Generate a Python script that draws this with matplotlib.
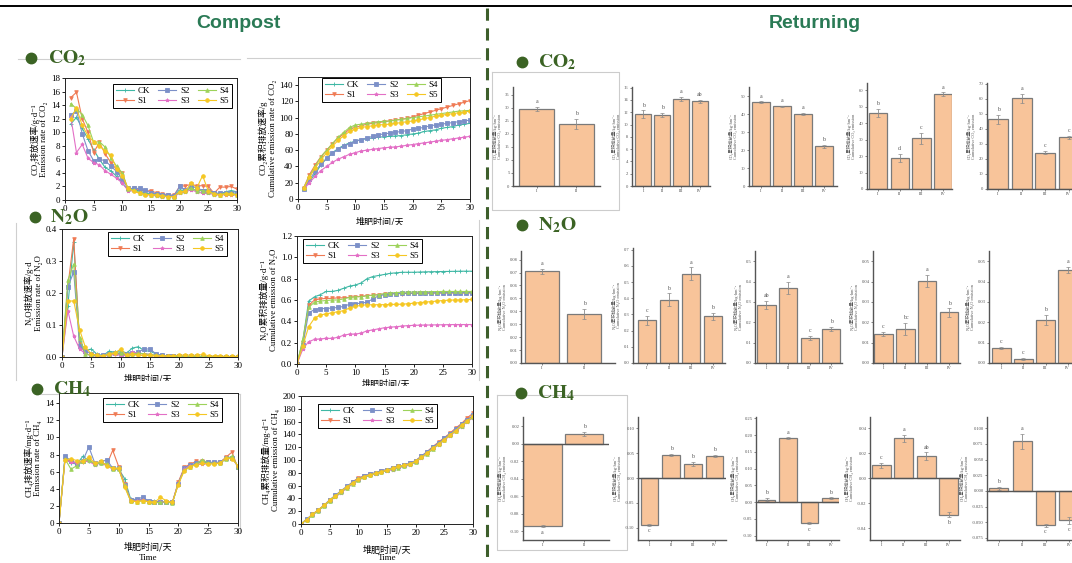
import numpy as np
import matplotlib
matplotlib.use("Agg")
import matplotlib.pyplot as plt
from matplotlib.lines import Line2D
from matplotlib.ticker import FormatStrFormatter
from matplotlib.transforms import Bbox, TransformedBbox

plt.rcParams['font.family'] = ['Liberation Serif', 'Noto Sans CJK SC', 'DejaVu Sans']
plt.rcParams['mathtext.fontset'] = 'stix'

# ---------------- data ----------------
SERIES = ["CK", "S1", "S2", "S3", "S4", "S5"]
COLORS = ["#3fb8a5", "#ef7a54", "#7c90c8", "#e36fc6", "#9dd25a", "#f5c722"]
MARKERS = ["+", "v", "s", "*", "^", "o"]

DAYS_1_30 = list(range(1, 31))
DAYS_0_30 = list(range(0, 31))

co2_rate = {
    "CK": [11.2, 12.2, 10.6, 9.0, 7.4, 6.0, 4.8, 4.3, 3.5, 2.5, 1.5, 1.6, 1.3, 1.0, 0.9, 0.8, 0.7, 0.6, 0.6, 1.5, 1.4, 1.8, 1.3, 1.5, 1.5, 1.0, 0.9, 1.2, 1.4, 1.2],
    "S1": [15.1, 15.9, 12.0, 10.0, 7.0, 8.5, 6.8, 5.5, 4.5, 4.0, 1.5, 1.7, 1.5, 1.3, 1.4, 1.0, 0.9, 0.8, 0.7, 2.0, 2.1, 2.3, 2.1, 2.1, 2.0, 1.0, 1.9, 1.9, 2.0, 1.6],
    "S2": [12.5, 13.2, 9.8, 7.3, 5.8, 6.0, 5.8, 5.0, 4.2, 3.0, 1.7, 1.7, 1.7, 1.5, 1.0, 0.9, 0.8, 0.7, 0.6, 2.0, 1.5, 2.0, 1.8, 1.4, 1.3, 1.0, 1.0, 1.0, 1.1, 1.0],
    "S3": [12.3, 7.0, 8.2, 6.2, 5.5, 5.2, 4.3, 3.8, 3.2, 2.5, 1.4, 1.3, 1.0, 0.8, 0.7, 0.6, 0.5, 0.5, 0.5, 1.0, 1.2, 1.5, 1.2, 1.0, 1.0, 0.8, 0.7, 0.8, 0.8, 0.7],
    "S4": [14.2, 13.5, 12.6, 11.0, 8.5, 8.6, 7.8, 6.2, 5.0, 4.0, 1.6, 1.5, 1.1, 0.9, 0.8, 0.7, 0.6, 0.5, 0.5, 1.2, 1.3, 1.8, 1.3, 1.4, 1.2, 0.9, 0.8, 1.0, 1.0, 0.8],
    "S5": [12.0, 13.6, 11.0, 9.5, 8.6, 8.0, 7.2, 6.6, 4.6, 3.6, 1.7, 1.3, 1.0, 0.8, 0.8, 0.7, 0.6, 0.5, 0.5, 1.2, 1.3, 2.5, 1.8, 3.6, 1.3, 0.9, 0.8, 0.9, 0.9, 0.7],
}
co2_cum = {
    "CK": [13, 22, 31, 42, 50, 57, 62, 66, 69, 71, 73, 74, 75, 76, 76.5, 77, 77.5, 78, 79, 80, 81, 83, 84, 85, 87, 88, 89, 91, 92, 93],
    "S1": [14, 30, 42, 52, 60, 68, 75, 80, 86, 88, 90, 92, 93, 94, 95, 96, 97, 98, 99, 101, 103, 105, 107, 109, 111, 113, 115, 117, 119, 121],
    "S2": [12, 24, 34, 43, 50, 56, 61, 65, 68, 71, 73, 75, 77, 79, 80, 81, 82, 83, 84, 86, 87, 88, 90, 91, 92, 93, 94, 95, 96, 97],
    "S3": [12, 20, 28, 35, 40, 45, 49, 52, 55, 57, 59, 60, 61, 62, 63, 63.5, 64, 65, 66, 67, 68, 69, 70, 71, 72, 73, 74, 75, 76, 77],
    "S4": [14, 28, 40, 52, 60, 68, 76, 82, 88, 91, 92, 93, 94, 95, 95.5, 96, 97, 98, 99, 100, 101, 102, 103, 104, 105, 106, 107, 108, 108.5, 109],
    "S5": [13, 27, 38, 48, 57, 65, 72, 78, 83, 86, 88, 89, 90, 91, 91.5, 92, 93, 94, 95, 96, 97, 99, 100, 102, 103, 104, 105, 106, 107, 108],
}
n2o_rate = {
    "CK": [0, 0.16, 0.36, 0.05, 0.02, 0.025, 0.008, 0.005, 0.018, 0.015, 0.02, 0.012, 0.028, 0.032, 0.02, 0.018, 0.01, 0.005, 0.004, 0.003, 0.003, 0.002, 0.002, 0.002, 0.002, 0.001, 0.001, 0.001, 0.001, 0.001, 0.001],
    "S1": [0, 0.22, 0.37, 0.04, 0.01, 0.005, 0.004, 0.003, 0.008, 0.01, 0.008, 0.006, 0.008, 0.006, 0.005, 0.004, 0.003, 0.002, 0.002, 0.002, 0.002, 0.002, 0.001, 0.001, 0.001, 0.001, 0.001, 0.001, 0.001, 0.001, 0.001],
    "S2": [0, 0.22, 0.265, 0.035, 0.02, 0.01, 0.005, 0.005, 0.01, 0.012, 0.01, 0.01, 0.012, 0.015, 0.025, 0.025, 0.01, 0.005, 0.004, 0.003, 0.002, 0.002, 0.002, 0.002, 0.001, 0.001, 0.001, 0.001, 0.001, 0.001, 0.001],
    "S3": [0, 0.145, 0.065, 0.025, 0.01, 0.005, 0.002, 0.002, 0.005, 0.008, 0.005, 0.004, 0.015, 0.012, 0.01, 0.008, 0.005, 0.003, 0.002, 0.002, 0.002, 0.001, 0.001, 0.001, 0.001, 0.001, 0.001, 0.001, 0.001, 0.001, 0.001],
    "S4": [0, 0.24, 0.29, 0.06, 0.01, 0.005, 0.004, 0.003, 0.01, 0.015, 0.012, 0.008, 0.01, 0.012, 0.01, 0.008, 0.006, 0.004, 0.003, 0.002, 0.002, 0.002, 0.002, 0.002, 0.001, 0.001, 0.001, 0.001, 0.001, 0.001, 0.001],
    "S5": [0, 0.175, 0.175, 0.085, 0.03, 0.01, 0.005, 0.004, 0.008, 0.012, 0.025, 0.005, 0.008, 0.006, 0.005, 0.005, 0.004, 0.004, 0.004, 0.004, 0.006, 0.006, 0.006, 0.005, 0.008, 0.004, 0.003, 0.003, 0.002, 0.002, 0.002],
}
n2o_cum = {
    "CK": [0, 0.22, 0.59, 0.63, 0.65, 0.68, 0.68, 0.69, 0.71, 0.73, 0.74, 0.76, 0.80, 0.82, 0.83, 0.84, 0.85, 0.855, 0.86, 0.86, 0.86, 0.862, 0.864, 0.865, 0.866, 0.867, 0.868, 0.869, 0.87, 0.87, 0.87],
    "S1": [0, 0.20, 0.55, 0.60, 0.61, 0.615, 0.615, 0.62, 0.62, 0.625, 0.63, 0.635, 0.64, 0.645, 0.65, 0.655, 0.66, 0.66, 0.66, 0.662, 0.662, 0.663, 0.663, 0.664, 0.664, 0.665, 0.665, 0.665, 0.665, 0.665, 0.665],
    "S2": [0, 0.18, 0.48, 0.51, 0.52, 0.52, 0.525, 0.53, 0.54, 0.56, 0.565, 0.57, 0.58, 0.61, 0.64, 0.65, 0.655, 0.66, 0.662, 0.664, 0.665, 0.666, 0.667, 0.668, 0.668, 0.669, 0.669, 0.67, 0.67, 0.67, 0.67],
    "S3": [0, 0.14, 0.21, 0.23, 0.235, 0.24, 0.24, 0.25, 0.27, 0.28, 0.28, 0.29, 0.31, 0.32, 0.33, 0.34, 0.345, 0.35, 0.355, 0.36, 0.362, 0.364, 0.365, 0.366, 0.367, 0.368, 0.369, 0.37, 0.37, 0.37, 0.37],
    "S4": [0, 0.23, 0.53, 0.58, 0.59, 0.595, 0.60, 0.60, 0.61, 0.625, 0.63, 0.63, 0.64, 0.645, 0.65, 0.66, 0.665, 0.67, 0.672, 0.674, 0.675, 0.676, 0.677, 0.678, 0.679, 0.68, 0.68, 0.68, 0.68, 0.68, 0.68],
    "S5": [0, 0.17, 0.35, 0.43, 0.46, 0.47, 0.48, 0.49, 0.50, 0.525, 0.54, 0.55, 0.555, 0.555, 0.556, 0.556, 0.558, 0.56, 0.56, 0.565, 0.57, 0.575, 0.58, 0.585, 0.59, 0.595, 0.598, 0.60, 0.60, 0.603, 0.605],
}
ch4_rate = {
    "CK": [0, 7.6, 7.0, 6.9, 7.8, 7.3, 6.9, 7.0, 6.8, 6.4, 6.3, 5.2, 2.8, 2.7, 2.8, 2.6, 2.6, 2.4, 2.5, 2.4, 4.7, 6.3, 6.7, 6.9, 7.2, 7.0, 7.0, 7.1, 7.6, 7.7, 6.6],
    "S1": [0, 7.4, 7.3, 7.0, 7.1, 7.4, 6.9, 7.1, 6.8, 8.5, 6.6, 4.6, 2.7, 2.6, 2.7, 2.5, 2.4, 2.5, 2.5, 2.4, 4.8, 6.5, 6.9, 7.2, 7.2, 7.1, 7.0, 7.1, 7.7, 8.3, 6.4],
    "S2": [0, 7.8, 7.3, 6.9, 7.3, 8.9, 7.0, 7.1, 7.4, 6.4, 6.4, 4.5, 2.7, 2.8, 3.0, 2.6, 2.5, 2.4, 2.5, 2.4, 4.6, 6.4, 6.8, 7.0, 7.1, 7.1, 7.1, 7.1, 7.6, 7.6, 6.6],
    "S3": [0, 7.4, 7.1, 7.0, 7.2, 7.2, 6.8, 7.0, 6.7, 6.3, 6.3, 4.5, 2.6, 2.6, 2.7, 2.5, 2.4, 2.4, 2.5, 2.4, 4.6, 6.3, 6.7, 6.8, 6.9, 6.9, 7.0, 7.0, 7.5, 7.6, 6.6],
    "S4": [0, 7.5, 6.3, 6.7, 7.2, 7.4, 6.9, 7.0, 6.9, 6.3, 6.3, 4.4, 2.6, 2.5, 2.6, 2.5, 2.4, 2.4, 2.5, 2.3, 4.6, 6.2, 6.6, 6.9, 7.4, 7.0, 7.0, 7.0, 7.5, 7.8, 6.6],
    "S5": [0, 7.4, 7.5, 7.3, 7.2, 7.7, 7.0, 7.2, 6.7, 6.4, 6.4, 4.2, 2.6, 2.5, 2.6, 2.5, 2.4, 3.0, 2.6, 2.4, 4.5, 6.1, 6.6, 6.8, 7.0, 6.9, 6.9, 7.0, 7.6, 7.5, 6.7],
}
ch4_cum = {
    "CK": [0, 7, 14, 21, 29, 36, 43, 50, 57, 64, 70, 74, 77, 79, 82, 84, 86, 89, 91, 94, 98, 105, 112, 119, 126, 133, 140, 147, 155, 162, 169],
    "S1": [0, 7, 15, 22, 29, 37, 44, 51, 58, 66, 72, 75, 78, 80, 83, 85, 87, 90, 92, 95, 99, 106, 113, 121, 128, 135, 142, 150, 157, 166, 173],
    "S2": [0, 8, 15, 22, 29, 38, 45, 52, 59, 65, 71, 75, 78, 80, 83, 85, 88, 90, 92, 95, 99, 106, 113, 120, 127, 134, 141, 148, 156, 163, 170],
    "S3": [0, 7, 14, 21, 28, 36, 42, 49, 56, 62, 68, 73, 76, 78, 81, 83, 85, 88, 90, 92, 97, 103, 110, 117, 124, 131, 138, 145, 152, 160, 166],
    "S4": [0, 7, 14, 21, 28, 36, 43, 50, 57, 63, 69, 73, 76, 79, 81, 84, 86, 88, 91, 93, 97, 104, 110, 117, 125, 132, 139, 146, 153, 161, 167],
    "S5": [0, 7, 15, 22, 29, 37, 44, 51, 58, 64, 70, 74, 77, 79, 82, 84, 87, 90, 92, 94, 98, 104, 111, 118, 125, 132, 139, 146, 154, 161, 168],
}

# Returning (bar charts), five charts per gas
CO2_BAR_VALS = [[29.5, 23.8], [11.7, 11.6, 14.2, 13.75], [46.5, 44.2, 40.0, 22.0], [46.0, 19.0, 30.7, 57.7], [46.3, 60.3, 24.1, 34.4]]
CO2_BAR_ERRS = [[0.8, 2.0], [0.6, 0.3, 0.3, 0.2], [0.5, 0.5, 0.8, 0.8], [2.5, 2.5, 3.5, 1.0], [3.0, 3.0, 1.0, 1.0]]
CO2_BAR_LETTERS = [["a", "b"], ["b", "b", "a", "ab"], ["a", "a", "a", "b"], ["b", "d", "c", "a"], ["b", "a", "c", "c"]]

N2O_BAR_VALS = [[0.071, 0.038], [0.263, 0.39, 0.55, 0.288], [0.284, 0.37, 0.125, 0.167], [0.0143, 0.0167, 0.0403, 0.0248], [0.0073, 0.0021, 0.0211, 0.0458]]
N2O_BAR_ERRS = [[0.002, 0.004], [0.03, 0.04, 0.04, 0.02], [0.02, 0.03, 0.01, 0.01], [0.001, 0.003, 0.003, 0.002], [0.0005, 0.0005, 0.0025, 0.0015]]
N2O_BAR_LETTERS = [["a", "b"], ["c", "b", "a", "b"], ["ab", "a", "c", "b"], ["c", "bc", "a", "b"], ["c", "c", "b", "a"]]

CH4_BAR_VALS = [[-0.094, 0.011], [-0.094, 0.046, 0.028, 0.044], [0.007, 0.19, -0.063, 0.011], [0.0104, 0.0319, 0.0176, -0.0292], [0.004, 0.079, -0.055, -0.047]]
CH4_BAR_ERRS = [[0.001, 0.002], [0.002, 0.002, 0.004, 0.002], [0.005, 0.003, 0.003, 0.003], [0.002, 0.003, 0.003, 0.002], [0.002, 0.012, 0.002, 0.006]]
CH4_BAR_LETTERS = [["a", "b"], ["c", "b", "b", "b"], ["b", "a", "c", "b"], ["c", "a", "ab", "b"], ["b", "a", "c", "c"]]

XLABELS_2 = ["I", "II"]
XLABELS_4 = ["I", "II", "III", "IV"]

# ---------------- figure ----------------
W, H = 1072, 563
fig = plt.figure(figsize=(W / 100, H / 100), dpi=100)
fig.patch.set_facecolor("white")

GREEN_HEAD = "#2a7a55"
GREEN_DARK = "#3b6324"


def pbox(x0, y0, x1, y1):
    return [x0 / W, 1 - y1 / H, (x1 - x0) / W, (y1 - y0) / H]


def fline(xs, ys, **kw):
    fig.add_artist(Line2D([x / W for x in xs], [1 - y / H for y in ys], transform=fig.transFigure, **kw))


def clipped_text(x, y, s, clip, **kw):
    t = fig.text(x / W, 1 - y / H, s, **kw)
    x0, y0, x1, y1 = clip
    t.set_clip_box(TransformedBbox(Bbox.from_extents(x0 / W, 1 - y1 / H, x1 / W, 1 - y0 / H), fig.transFigure))
    t.set_clip_on(True)
    return t


# top (cut-off) caption and rule: only the descenders of the caption peek into the picture
fig.text(536 / W, 1 + 5.5 / H,
         "Figure 3  Changes of greenhouse gas during composting (left) and straw returning (right) in the field, by gas",
         ha="center", va="baseline", fontsize=19, family="Liberation Sans", color="black")
fline([0, W], [5.8, 5.8], color="black", lw=1.4)

fig.text(238 / W, 1 - 23 / H, "Compost", ha="center", va="center", fontsize=14, fontweight="bold",
         family="Liberation Sans", color=GREEN_HEAD)
fig.text(815 / W, 1 - 23 / H, "Returning", ha="center", va="center", fontsize=14, fontweight="bold",
         family="Liberation Sans", color=GREEN_HEAD)
fline([487, 487], [8, 563], color="#3d5e2b", lw=2.2, ls=(0, (4, 2.5)))

# light panel frames on the left
frame_kw = dict(color="#cfcfcf", lw=0.8)
fline([18, 240], [59, 59], **frame_kw)
fline([247, 480], [58, 58], **frame_kw)
fline([16, 16], [223, 380], **frame_kw)
fline([479, 479], [220, 380], **frame_kw)
fline([40, 240], [394, 394], **frame_kw)
fline([240, 240], [394, 533], **frame_kw)


def header(xb, yb, xt, label):
    fig.add_artist(Line2D([xb / W], [1 - yb / H], marker="o", ms=7.5, color=GREEN_DARK,
                          transform=fig.transFigure))
    fig.text(xt / W, 1 - yb / H, label, ha="left", va="center", fontsize=14, color=GREEN_DARK)


def line_panel(rect, xs, data, ylim, yticks, yfmt, ylabel, legend_xy, z=1):
    ax = fig.add_axes(pbox(*rect), zorder=z)
    for name, c, m in zip(SERIES, COLORS, MARKERS):
        ax.plot(xs, data[name], color=c, marker=m, ms=2.6, lw=0.8, mew=0.6, label=name)
    ax.set_xlim(0, 30)
    ax.set_xticks(range(0, 31, 5))
    ax.set_ylim(*ylim)
    ax.set_yticks(yticks)
    ax.yaxis.set_major_formatter(FormatStrFormatter(yfmt))
    ax.tick_params(labelsize=6.5, length=2, width=0.6, pad=1.5, direction="out")
    for s in ax.spines.values():
        s.set_linewidth(0.7)
        s.set_color("#222222")
    ax.set_ylabel(ylabel, fontsize=6.3, linespacing=1.15, labelpad=2)
    leg = ax.legend(ncol=3, loc="upper left", bbox_to_anchor=(legend_xy[0] / W, 1 - legend_xy[1] / H),
                    bbox_transform=fig.transFigure, fontsize=6.5, frameon=True, fancybox=False,
                    edgecolor="black", framealpha=1, borderpad=0.35, labelspacing=0.15,
                    handlelength=2.0, handletextpad=0.4, columnspacing=0.9, borderaxespad=0)
    leg.get_frame().set_linewidth(0.7)
    return ax


# ---- Compost panels ----
line_panel((65, 78, 237, 200), DAYS_1_30, co2_rate, (0, 18), range(0, 19, 2), "%d",
           "CO₂排放速率/g·d⁻¹\nEmission rate of CO₂", (113, 84), z=1)
line_panel((298, 77, 470, 199), DAYS_1_30, co2_cum, (0, 150), range(0, 141, 20), "%d",
           "CO₂累积排放速率/g\nCumulative emission rate of CO₂", (322, 78), z=1)
clipped_text(380, 222, "堆肥时间/天", (250, 200, 485, 225), ha="center", va="center", fontsize=6.5,
             family=["Noto Sans CJK SC", "DejaVu Sans"])

line_panel((62, 229, 238, 357), DAYS_0_30, n2o_rate, (0, 0.4), [0, 0.1, 0.2, 0.3, 0.4], "%.1f",
           "N₂O排放速率/g·d\nEmission rate of N₂O", (108, 232), z=2)
clipped_text(148, 379, "堆肥时间/天", (0, 360, 250, 381), ha="center", va="center", fontsize=6.5,
             family=["Noto Sans CJK SC", "DejaVu Sans"])
line_panel((297, 236, 472, 364), DAYS_0_30, n2o_cum, (0, 1.2), [0, 0.2, 0.4, 0.6, 0.8, 1.0, 1.2], "%.1f",
           "N₂O累积排放量/g·d⁻¹\nCumulative emission of N₂O", (303, 239), z=2)
clipped_text(386, 384, "堆肥时间/天", (250, 370, 485, 386), ha="center", va="center", fontsize=6.5,
             family=["Noto Sans CJK SC", "DejaVu Sans"])

line_panel((59, 393, 238, 523), DAYS_0_30, ch4_rate, (0, 15.2), range(0, 15, 2), "%d",
           "CH₄排放速率/mg·d⁻¹\nEmission rate of CH₄", (103, 398), z=3)
fig.text(148 / W, 1 - 547 / H, "堆肥时间/天", ha="center", va="center", fontsize=6.5,
         family=["Noto Sans CJK SC", "DejaVu Sans"])
fig.text(148 / W, 1 - 558 / H, "Time", ha="center", va="center", fontsize=6.5)
line_panel((301, 396, 473, 524), DAYS_0_30, ch4_cum, (0, 200), range(0, 201, 20), "%d",
           "CH₄累积排放量/mg·d⁻¹\nCumulative emission of CH₄", (318, 404), z=3)
fig.text(387 / W, 1 - 550 / H, "堆肥时间/天", ha="center", va="center", fontsize=6.5,
         family=["Noto Sans CJK SC", "DejaVu Sans"])
fig.text(387 / W, 1 - 558.5 / H, "Time", ha="center", va="center", fontsize=6.5)

header(31, 58, 48, r"$\mathbf{CO_2}$")
header(35, 217, 50, r"$\mathbf{N_2O}$")
header(37, 389, 53, r"$\mathbf{CH_4}$")

# ---- Returning bar charts ----
BAR_FACE = "#f8c49a"
BAR_EDGE = "#7a7a7a"


def bar_panel(rect, vals, errs, letters, xlim, ylim, yticks, yfmt, ylabel, zero=False, width=0.84):
    ax = fig.add_axes(pbox(*rect), zorder=5)
    ax.patch.set_alpha(0)
    x = np.arange(len(vals))
    ax.bar(x, vals, width=width, color=BAR_FACE, edgecolor=BAR_EDGE, lw=0.9, zorder=2)
    ax.errorbar(x, vals, yerr=errs, fmt="none", ecolor="#8a8a8a", elinewidth=0.6, capsize=1.2,
                capthick=0.5, zorder=3)
    for xi, v, e, lab in zip(x, vals, errs, letters):
        if v >= 0:
            ax.annotate(lab, (xi, v + e), xytext=(0, 2), textcoords="offset points", ha="center",
                        va="bottom", fontsize=4.2, color="#555555")
        else:
            ax.annotate(lab, (xi, v - e), xytext=(0, -2), textcoords="offset points", ha="center",
                        va="top", fontsize=4.2, color="#555555")
    if zero:
        ax.axhline(0, color="#555555", lw=1.0, zorder=4)
    ax.set_xlim(*xlim)
    ax.set_ylim(*ylim)
    ax.set_xticks(x)
    ax.set_xticklabels(XLABELS_2 if len(vals) == 2 else XLABELS_4)
    ax.set_yticks(yticks)
    ax.yaxis.set_major_formatter(FormatStrFormatter(yfmt))
    ax.tick_params(labelsize=3.3, length=1.5, width=0.5, pad=1, colors="#555555")
    for side in ("top", "right"):
        ax.spines[side].set_visible(False)
    for side in ("left", "bottom"):
        ax.spines[side].set_color("#555555")
        ax.spines[side].set_linewidth(1.0)
    ax.set_ylabel(ylabel, fontsize=3.2, linespacing=1.1, labelpad=2, color="#555555")
    return ax


def frame_box(x0, y0, x1, y1):
    fline([x0, x1, x1, x0, x0], [y0, y0, y1, y1, y0], color="#cccccc", lw=0.8)


frame_box(492, 72, 619, 210)
frame_box(497, 395, 627, 550)

co2_lab = "CO₂累积排放量/kg·hm⁻²\nCumulative CO₂ emission"
n2o_lab = "N₂O累积排放量/kg·hm⁻²\nCumulative N₂O emission"
ch4_lab = "CH₄累积排放量/kg·hm⁻²\nCumulative CH₄ emission"

# CO2 row
bar_panel((513, 87, 600, 186), CO2_BAR_VALS[0], CO2_BAR_ERRS[0], CO2_BAR_LETTERS[0], (-0.6, 1.6), (0, 38), range(0, 36, 5), "%d", co2_lab, width=0.88)
bar_panel((632, 87, 710, 186), CO2_BAR_VALS[1], CO2_BAR_ERRS[1], CO2_BAR_LETTERS[1], (-0.6, 3.55), (0, 16.1), range(0, 17, 2), "%d", co2_lab)
bar_panel((749, 87, 837, 186), CO2_BAR_VALS[2], CO2_BAR_ERRS[2], CO2_BAR_LETTERS[2], (-0.57, 3.62), (0, 55), range(0, 51, 10), "%d", co2_lab)
bar_panel((867, 83, 952, 189), CO2_BAR_VALS[3], CO2_BAR_ERRS[3], CO2_BAR_LETTERS[3], (-0.5, 3.4), (0, 64.4), range(0, 61, 10), "%d", co2_lab)
bar_panel((987, 83, 1090, 189), CO2_BAR_VALS[4], CO2_BAR_ERRS[4], CO2_BAR_LETTERS[4], (-0.47, 3.9), (0, 70.5), range(0, 71, 10), "%d", co2_lab)

# N2O row
bar_panel((521, 251, 615, 363), N2O_BAR_VALS[0], N2O_BAR_ERRS[0], N2O_BAR_LETTERS[0], (-0.49, 1.72), (0, 0.0867), np.arange(0, 0.081, 0.01), "%.2f", n2o_lab, width=0.8)
bar_panel((633, 248, 725, 363), N2O_BAR_VALS[1], N2O_BAR_ERRS[1], N2O_BAR_LETTERS[1], (-0.64, 3.55), (0, 0.71), np.arange(0, 0.71, 0.1), "%.1f", n2o_lab)
bar_panel((755, 251, 842, 363), N2O_BAR_VALS[2], N2O_BAR_ERRS[2], N2O_BAR_LETTERS[2], (-0.53, 3.5), (0, 0.55), np.arange(0, 0.51, 0.1), "%.1f", n2o_lab)
bar_panel((873, 251, 960, 363), N2O_BAR_VALS[3], N2O_BAR_ERRS[3], N2O_BAR_LETTERS[3], (-0.48, 3.5), (0, 0.055), np.arange(0, 0.051, 0.01), "%.2f", n2o_lab)
bar_panel((989, 251, 1090, 363), N2O_BAR_VALS[4], N2O_BAR_ERRS[4], N2O_BAR_LETTERS[4], (-0.55, 4.0), (0, 0.055), np.arange(0, 0.051, 0.01), "%.2f", n2o_lab)

# CH4 row
bar_panel((523, 417, 609, 540), CH4_BAR_VALS[0], CH4_BAR_ERRS[0], CH4_BAR_LETTERS[0], (-0.47, 1.6), (-0.110, 0.0303), np.arange(-0.10, 0.021, 0.02), "%.2f", ch4_lab, zero=True, width=0.93)
bar_panel((638, 417, 726, 540), CH4_BAR_VALS[1], CH4_BAR_ERRS[1], CH4_BAR_LETTERS[1], (-0.53, 3.53), (-0.125, 0.123), np.arange(-0.10, 0.101, 0.05), "%.2f", ch4_lab, zero=True, width=0.81)
bar_panel((756, 417, 839, 540), CH4_BAR_VALS[2], CH4_BAR_ERRS[2], CH4_BAR_LETTERS[2], (-0.49, 3.38), (-0.113, 0.254), np.arange(-0.10, 0.251, 0.05), "%.2f", ch4_lab, zero=True, width=0.82)
bar_panel((870, 417, 960, 540), CH4_BAR_VALS[3], CH4_BAR_ERRS[3], CH4_BAR_LETTERS[3], (-0.5, 3.5), (-0.0495, 0.049), np.arange(-0.04, 0.041, 0.02), "%.2f", ch4_lab, zero=True, width=0.83)
bar_panel((987, 417, 1090, 540), CH4_BAR_VALS[4], CH4_BAR_ERRS[4], CH4_BAR_LETTERS[4], (-0.5, 3.9), (-0.0785, 0.118), np.arange(-0.075, 0.101, 0.025), "%.3f", ch4_lab, zero=True, width=0.81)

header(522, 62, 538, r"$\mathbf{CO_2}$")
header(522, 225, 538, r"$\mathbf{N_2O}$")
header(521, 393, 537, r"$\mathbf{CH_4}$")

fig.savefig("out.png", dpi=100, facecolor="white")
